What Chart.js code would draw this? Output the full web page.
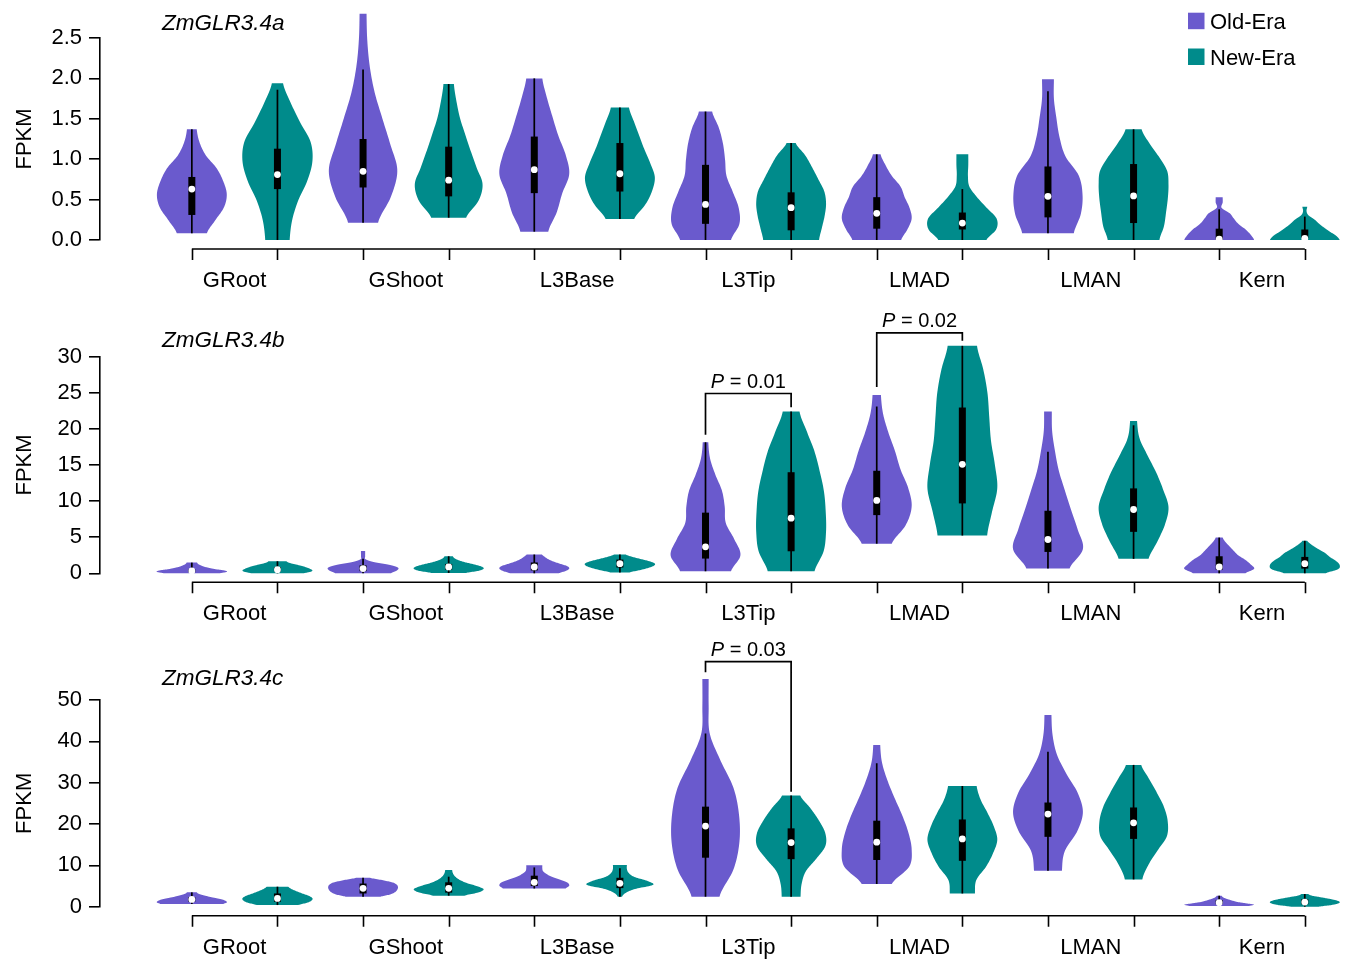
<!DOCTYPE html>
<html>
<head>
<meta charset="utf-8">
<script src="https://cdn.jsdelivr.net/npm/chart.js@4.4.1/dist/chart.umd.min.js"></script>
<style>
  html, body { margin: 0; padding: 0; background: #fff; overflow: hidden; }
  #wrap { position: relative; width: 1351px; height: 960px; }
  .panel { position: absolute; left: 0; width: 1351px; }
</style>
</head>
<body>
<div id="wrap">
  <div class="panel" style="top:-12px"><canvas id="chartA" width="1351" height="305"></canvas></div>
  <div class="panel" style="top:301px"><canvas id="chartB" width="1351" height="325"></canvas></div>
  <div class="panel" style="top:625px"><canvas id="chartC" width="1351" height="335"></canvas></div>
</div>
<script>
// categories, groups
const categories = ['GRoot', 'GShoot', 'L3Base', 'L3Tip', 'LMAD', 'LMAN', 'Kern'];
const eras = ['Old-Era', 'New-Era'];
const eraColors = ['#6A5ACD', '#008B8B'];
const genes = ['ZmGLR3.4a', 'ZmGLR3.4b', 'ZmGLR3.4c'];

// y tick labels
const yTicksA = [0, 0.5, 1, 1.5, 2, 2.5];
const yTicksB = [0, 5, 10, 15, 20, 25, 30];
const yTicksC = [0, 10, 20, 30, 40, 50];

// violins, order: GRoot old, GRoot new, GShoot old, ... Kern new
// lo/hi = violin range, shape = relative width at 9 even steps from lo to hi
const loA = [0.083, 0, 0.215, 0.276, 0.103, 0.26, 0, 0, 0, 0, 0.083, 0, 0, 0];
const hiA = [1.37, 1.94, 2.8, 1.93, 2.0, 1.64, 1.59, 1.2, 1.06, 1.06, 1.99, 1.37, 0.53, 0.41];
const shapeA = [
  [0.43, 0.67, 0.92, 1.0, 0.9, 0.71, 0.4, 0.22, 0.14],
  [0.35, 0.42, 0.59, 0.85, 1.0, 0.95, 0.65, 0.38, 0.16],
  [0.43, 0.8, 0.98, 0.78, 0.55, 0.33, 0.19, 0.12, 0.1],
  [0.5, 0.85, 0.97, 0.8, 0.63, 0.47, 0.32, 0.22, 0.15],
  [0.4, 0.64, 0.8, 1.0, 0.9, 0.69, 0.52, 0.36, 0.23],
  [0.41, 0.72, 0.92, 1.0, 0.87, 0.7, 0.55, 0.4, 0.26],
  [0.73, 0.97, 0.95, 0.78, 0.6, 0.56, 0.5, 0.38, 0.19],
  [0.8, 0.88, 0.96, 1.0, 0.95, 0.78, 0.6, 0.4, 0.13],
  [0.7, 0.88, 1.0, 0.94, 0.8, 0.68, 0.43, 0.25, 0.11],
  [0.69, 0.97, 0.98, 0.7, 0.42, 0.2, 0.16, 0.17, 0.17],
  [0.74, 0.94, 0.99, 0.88, 0.5, 0.33, 0.24, 0.17, 0.17],
  [0.74, 0.87, 0.93, 0.98, 1.0, 0.96, 0.73, 0.45, 0.23],
  [1.0, 0.9, 0.75, 0.55, 0.42, 0.3, 0.07, 0.1, 0.1],
  [1.0, 0.9, 0.72, 0.55, 0.4, 0.27, 0.1, 0.05, 0.07]
];
const q1A = [0.31, 0.63, 0.65, 0.54, 0.58, 0.6, 0.2, 0.12, 0.14, 0.13, 0.28, 0.21, 0, 0.02];
const medA = [0.63, 0.81, 0.85, 0.74, 0.87, 0.82, 0.44, 0.4, 0.33, 0.21, 0.54, 0.545, 0.01, 0.02];
const q3A = [0.78, 1.13, 1.25, 1.155, 1.28, 1.2, 0.93, 0.59, 0.53, 0.34, 0.91, 0.94, 0.14, 0.13];
const whiskHiA = [1.37, 1.86, 2.11, 1.93, 2.0, 1.64, 1.59, 1.2, 1.06, 0.63, 1.84, 1.37, 0.38, 0.29];

const loB = [0, 0, 0, 0.05, 0, 0.1, 0.28, 0.28, 4.1, 5.23, 0.65, 2.0, 0, 0];
const hiB = [1.48, 1.67, 3.1, 2.36, 2.6, 2.6, 18.15, 22.4, 24.7, 31.5, 22.4, 21.1, 4.95, 4.5];
const shapeB = [
  [0.8, 1.0, 0.95, 0.7, 0.5, 0.35, 0.25, 0.18, 0.15],
  [0.75, 0.95, 1.0, 0.93, 0.82, 0.68, 0.5, 0.33, 0.26],
  [0.8, 0.97, 1.0, 0.75, 0.3, 0.07, 0.06, 0.06, 0.06],
  [0.5, 0.85, 1.0, 0.95, 0.75, 0.5, 0.3, 0.17, 0.12],
  [0.7, 0.9, 1.0, 0.95, 0.75, 0.55, 0.4, 0.3, 0.22],
  [0.26, 0.55, 0.8, 0.97, 1.0, 0.85, 0.6, 0.35, 0.17],
  [0.73, 1.0, 0.82, 0.58, 0.55, 0.47, 0.28, 0.13, 0.08],
  [0.67, 0.93, 1.0, 0.99, 0.94, 0.82, 0.67, 0.45, 0.24],
  [0.43, 0.83, 1.0, 0.9, 0.68, 0.52, 0.33, 0.18, 0.12],
  [0.71, 0.85, 1.0, 0.93, 0.82, 0.77, 0.72, 0.6, 0.42],
  [0.62, 1.0, 0.85, 0.66, 0.48, 0.31, 0.2, 0.12, 0.11],
  [0.43, 0.68, 0.9, 1.0, 0.85, 0.65, 0.4, 0.17, 0.1],
  [0.75, 1.0, 0.9, 0.75, 0.55, 0.42, 0.3, 0.18, 0.1],
  [0.6, 0.95, 1.0, 0.9, 0.72, 0.58, 0.38, 0.2, 0.07]
];
const q1B = [0.15, 0.25, 0.3, 0.5, 0.4, 0.8, 2.04, 3.05, 8.06, 9.68, 2.96, 5.74, 0.5, 0.65];
const medB = [0.32, 0.5, 0.65, 0.88, 0.88, 1.34, 3.66, 7.64, 10.1, 15.1, 4.68, 8.84, 0.88, 1.34];
const q3B = [0.55, 0.85, 1.1, 1.3, 1.5, 1.9, 8.4, 14.0, 14.2, 22.96, 8.66, 11.76, 2.36, 2.27];
const whiskHiB = [1.48, 1.67, 2.0, 2.36, 2.6, 2.6, 18.15, 22.4, 23.1, 31.5, 16.85, 20.5, 4.95, 4.5];

const loC = [0.65, 0.4, 2.4, 2.66, 4.4, 2.4, 2.42, 2.42, 5.5, 3.2, 8.7, 6.6, 0.16, 0];
const hiC = [3.47, 4.84, 7.0, 8.9, 10.0, 10.1, 55.1, 26.9, 39.1, 29.2, 46.4, 34.3, 2.66, 3.06];
const shapeC = [
  [0.9, 1.0, 0.98, 0.88, 0.7, 0.5, 0.33, 0.2, 0.14],
  [0.6, 0.85, 0.98, 1.0, 0.9, 0.72, 0.55, 0.4, 0.31],
  [0.5, 0.78, 0.92, 0.98, 1.0, 0.97, 0.85, 0.55, 0.2],
  [0.45, 0.85, 1.0, 0.8, 0.5, 0.3, 0.18, 0.12, 0.1],
  [0.9, 1.0, 0.95, 0.75, 0.52, 0.35, 0.25, 0.23, 0.23],
  [0.06, 0.17, 0.45, 0.95, 0.78, 0.41, 0.25, 0.2, 0.2],
  [0.4, 0.8, 0.97, 0.96, 0.8, 0.43, 0.12, 0.09, 0.09],
  [0.27, 0.3, 0.42, 0.72, 0.98, 0.98, 0.8, 0.55, 0.26],
  [0.43, 0.93, 1.0, 0.9, 0.72, 0.5, 0.3, 0.15, 0.1],
  [0.36, 0.4, 0.68, 0.88, 1.0, 0.9, 0.72, 0.52, 0.41],
  [0.4, 0.48, 0.83, 1.0, 0.85, 0.52, 0.25, 0.13, 0.1],
  [0.25, 0.42, 0.68, 0.95, 0.98, 0.88, 0.68, 0.45, 0.22],
  [0.85, 1.0, 0.8, 0.55, 0.4, 0.28, 0.17, 0.1, 0.07],
  [0.4, 0.75, 0.95, 1.0, 0.9, 0.7, 0.45, 0.2, 0.1]
];
const q1C = [1.2, 1.2, 3.2, 3.4, 5.0, 4.5, 11.85, 11.5, 11.3, 11.1, 16.9, 16.4, 0.6, 0.6];
const medC = [1.77, 2.0, 4.44, 4.44, 5.9, 5.65, 19.5, 15.5, 15.6, 16.4, 22.4, 20.3, 0.97, 1.13];
const q3C = [2.3, 3.2, 5.6, 5.9, 7.5, 7.0, 24.2, 18.95, 20.8, 21.1, 25.2, 24.0, 1.6, 1.8];
const whiskHiC = [3.47, 4.84, 7.0, 7.26, 9.5, 9.3, 41.9, 26.9, 34.7, 29.2, 37.5, 34.3, 2.66, 3.06];

// significance brackets (positions 1..14, legs in FPKM)
const testsA = [];
const testsB = [
  { from: 7, to: 8, p: '0.01', leftEnd: 19.2, top: 24.9, rightEnd: 23.0 },
  { from: 9, to: 10, p: '0.02', leftEnd: 25.8, top: 33.3, rightEnd: 32.2 }
];
const testsC = [
  { from: 7, to: 8, p: '0.03', leftEnd: 56.7, top: 59.3, rightEnd: 27.8 }
];

const FONT = "'Liberation Sans', Arial, Helvetica, sans-serif";

const panels = [
  { id: 'chartA', gene: genes[0], ticks: yTicksA, decimals: 1, lo: loA, hi: hiA, shape: shapeA,
    q1: q1A, med: medA, q3: q3A, whiskHi: whiskHiA, tests: testsA,
    padTop: 50, padBottom: 53, titleY: 41.5, legend: true },
  { id: 'chartB', gene: genes[1], ticks: yTicksB, decimals: 0, lo: loB, hi: hiB, shape: shapeB,
    q1: q1B, med: medB, q3: q3B, whiskHi: whiskHiB, tests: testsB,
    padTop: 55.7, padBottom: 52.7, titleY: 45.7, legend: false },
  { id: 'chartC', gene: genes[2], ticks: yTicksC, decimals: 0, lo: loC, hi: hiC, shape: shapeC,
    q1: q1C, med: medC, q3: q3C, whiskHi: whiskHiC, tests: testsC,
    padTop: 75, padBottom: 53.3, titleY: 60, legend: false }
];

// catmull-rom through the width samples
function spline(w, t) {
  const n = w.length;
  const i = Math.min(Math.floor(t), n - 2);
  const f = t - i;
  const p0 = w[Math.max(i - 1, 0)], p1 = w[i], p2 = w[i + 1], p3 = w[Math.min(i + 2, n - 1)];
  return 0.5 * (2 * p1 + (-p0 + p2) * f + (2 * p0 - 5 * p1 + 4 * p2 - p3) * f * f +
    (-p0 + 3 * p1 - 3 * p2 + p3) * f * f * f);
}

function violinPlugin(p) {
  return {
    id: 'violins',
    beforeDatasetsDraw(chart) {
      const ctx = chart.ctx;
      const xS = chart.scales.x, yS = chart.scales.y;
      const half = 0.408 * (xS.getPixelForValue(1) - xS.getPixelForValue(0));
      ctx.save();
      p.lo.forEach((lo, i) => {
        const cx = xS.getPixelForValue(i + 1);
        const hi = p.hi[i], w = p.shape[i];
        const steps = 90;
        const pts = [];
        for (let s = 0; s <= steps; s++) {
          const t = s / steps * (w.length - 1);
          const v = lo + (hi - lo) * s / steps;
          pts.push([Math.max(0.02, spline(w, t)) * half, yS.getPixelForValue(v)]);
        }
        ctx.beginPath();
        pts.forEach(([dx, y], k) => (k ? ctx.lineTo(cx + dx, y) : ctx.moveTo(cx + dx, y)));
        for (let k = pts.length - 1; k >= 0; k--) ctx.lineTo(cx - pts[k][0], pts[k][1]);
        ctx.closePath();
        ctx.fillStyle = eraColors[i % 2];
        ctx.fill();

        // whisker
        ctx.strokeStyle = '#000';
        ctx.lineWidth = 1.7;
        ctx.beginPath();
        ctx.moveTo(cx, yS.getPixelForValue(lo));
        ctx.lineTo(cx, yS.getPixelForValue(p.whiskHi[i]));
        ctx.stroke();

        // box
        const yq3 = yS.getPixelForValue(p.q3[i]), yq1 = yS.getPixelForValue(p.q1[i]);
        ctx.fillStyle = '#000';
        ctx.fillRect(cx - 3.5, yq3, 7, yq1 - yq3);
      });
      ctx.restore();
    },
    afterDraw(chart) {
      const ctx = chart.ctx;
      const xS = chart.scales.x, yS = chart.scales.y;
      const y0 = yS.getPixelForValue(0);
      const axisY = y0 + 9;
      ctx.save();

      // x axis
      ctx.strokeStyle = '#000';
      ctx.lineWidth = 1.6;
      ctx.beginPath();
      ctx.moveTo(xS.getPixelForValue(1), axisY);
      ctx.lineTo(xS.getPixelForValue(14), axisY);
      for (let k = 1; k <= 14; k++) {
        const x = Math.round(xS.getPixelForValue(k)) + 0.5;
        ctx.moveTo(x, axisY);
        ctx.lineTo(x, axisY + 11);
      }
      ctx.stroke();
      ctx.fillStyle = '#000';
      ctx.font = '22px ' + FONT;
      ctx.textAlign = 'center';
      ctx.textBaseline = 'alphabetic';
      categories.forEach((c, j) => {
        ctx.fillText(c, xS.getPixelForValue(2 * j + 1.5), axisY + 38);
      });

      // gene title
      ctx.font = 'italic 22.5px ' + FONT;
      ctx.textAlign = 'left';
      ctx.fillText(p.gene, 162, p.titleY);

      // brackets
      p.tests.forEach(t => {
        const xl = xS.getPixelForValue(t.from), xr = xS.getPixelForValue(t.to);
        const yt = yS.getPixelForValue(t.top);
        ctx.lineWidth = 1.7;
        ctx.beginPath();
        ctx.moveTo(xl, yS.getPixelForValue(t.leftEnd));
        ctx.lineTo(xl, yt);
        ctx.lineTo(xr, yt);
        ctx.lineTo(xr, yS.getPixelForValue(t.rightEnd));
        ctx.stroke();
        ctx.font = 'italic 20px ' + FONT;
        const wP = ctx.measureText('P').width;
        ctx.font = '20px ' + FONT;
        const rest = ' = ' + t.p;
        const wR = ctx.measureText(rest).width;
        const x0 = (xl + xr) / 2 - (wP + wR) / 2;
        ctx.textAlign = 'left';
        ctx.font = 'italic 20px ' + FONT;
        ctx.fillText('P', x0, yt - 6);
        ctx.font = '20px ' + FONT;
        ctx.fillText(rest, x0 + wP, yt - 6);
      });

      // legend
      if (p.legend) {
        ctx.font = '22px ' + FONT;
        ctx.textAlign = 'left';
        eras.forEach((e, k) => {
          ctx.fillStyle = eraColors[k];
          ctx.fillRect(1188, 24.7 + k * 35.8, 16.5, 16.5);
          ctx.fillStyle = '#000';
          ctx.fillText(e, 1210, 41.3 + k * 35.8);
        });
      }
      ctx.restore();
    }
  };
}

function makeChart(p) {
  const oldMed = [], newMed = [];
  p.med.forEach((m, i) => {
    (i % 2 === 0 ? oldMed : newMed).push({ x: i + 1, y: m });
  });
  const pointStyle = { backgroundColor: '#fff', borderWidth: 0, pointRadius: 3.4, pointHoverRadius: 3.4, clip: false };
  new Chart(document.getElementById(p.id), {
    type: 'scatter',
    data: {
      datasets: [
        Object.assign({ label: eras[0], data: oldMed }, pointStyle),
        Object.assign({ label: eras[1], data: newMed }, pointStyle)
      ]
    },
    options: {
      responsive: false,
      animation: false,
      events: [],
      devicePixelRatio: 1,
      layout: { padding: { left: 0, right: 1.3, top: p.padTop, bottom: p.padBottom } },
      scales: {
        x: { type: 'linear', display: false, min: -0.0727, max: 14.5 },
        y: {
          min: 0,
          max: p.ticks[p.ticks.length - 1],
          afterBuildTicks: s => { s.ticks = p.ticks.map(v => ({ value: v })); },
          afterFit: s => { s.width = 100; },
          border: { display: true, color: '#000', width: 1.6 },
          grid: { drawOnChartArea: false, drawTicks: true, tickLength: 11, color: '#000', lineWidth: 1.6 },
          ticks: {
            color: '#000',
            padding: 7,
            font: { family: FONT, size: 22 },
            callback: v => Number(v).toFixed(p.decimals)
          },
          title: {
            display: true,
            text: 'FPKM',
            color: '#000',
            font: { family: FONT, size: 22 },
            padding: { top: 12, bottom: 0 }
          }
        }
      },
      plugins: { legend: { display: false }, tooltip: { enabled: false } }
    },
    plugins: [violinPlugin(p)]
  });
}

panels.forEach(makeChart);
</script>
</body>
</html>
